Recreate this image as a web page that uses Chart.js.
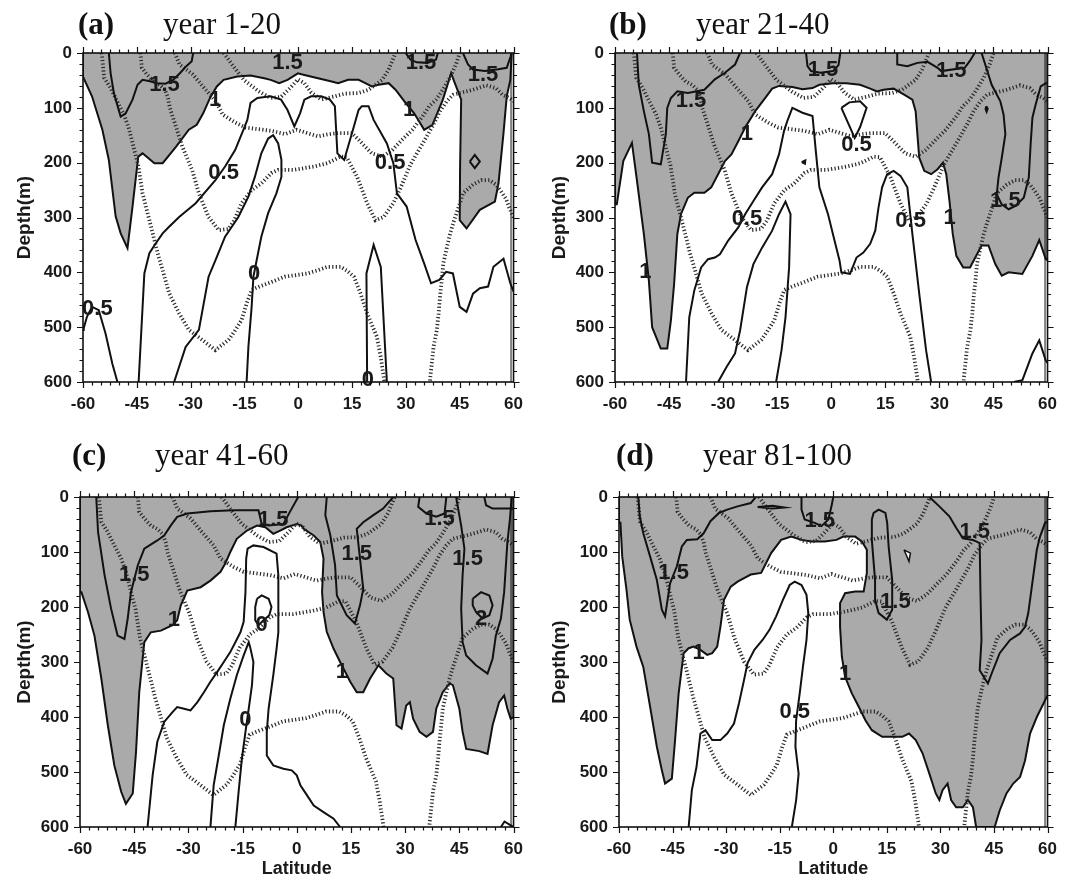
<!DOCTYPE html>
<html>
<head>
<meta charset="utf-8">
<script src="https://cdn.jsdelivr.net/npm/chart.js@4.4.1/dist/chart.umd.min.js"></script>
<style>
  html, body { margin: 0; padding: 0; background: #fff; }
  #wrap { position: relative; width: 1069px; height: 880px; background: #fff; overflow: hidden; }
  canvas { position: absolute; }
</style>
</head>
<body>
<div id="wrap">
  <canvas id="pa" width="535" height="440" style="left:0;top:0"></canvas>
  <canvas id="pb" width="534" height="440" style="left:535px;top:0"></canvas>
  <canvas id="pc" width="535" height="440" style="left:0;top:440px"></canvas>
  <canvas id="pd" width="534" height="440" style="left:535px;top:440px"></canvas>
</div>
<script>
// ---------- axis ticks ----------
const latTicks = [-60, -45, -30, -15, 0, 15, 30, 45, 60];
const depthTicks = [0, 100, 200, 300, 400, 500, 600];

// ---------- dotted background contours (same in every panel), [latitude, depth] ----------
const isoDeep = [[-54.8,0],[-54.1,45],[-52.3,64],[-50.5,88],[-48.6,112],[-47.3,136],[-46.3,161],[-45.4,185],[-44.6,205],[-43.4,256],[-41.5,305],[-40.1,341],[-39.2,365],[-37.8,396],[-36,438],[-33.2,475],[-30.5,505],[-26.8,523],[-23.1,542],[-19.4,523],[-17.5,505],[-15.8,487],[-14.3,455],[-13,432],[-10.5,425],[-8.4,420],[-3.8,408],[2.6,402],[5.5,396],[8.1,390],[11.8,390],[13.8,398],[15.5,408],[17.3,438],[19.2,475],[21.9,517],[23,555],[23.8,590],[24,600]];
const isoMid = [[-44,0],[-43.6,27],[-42.2,39],[-40.4,52],[-38.6,58],[-37.2,67],[-36.3,82],[-35.8,100],[-34.9,118],[-34,136],[-33.1,155],[-32.3,171],[-29.6,213],[-27.7,256],[-25,299],[-22.2,323],[-19.5,321],[-17.9,306],[-15.8,274],[-13,250],[-10.3,238],[-7.5,219],[-5.6,213],[-1.1,213],[4.4,207],[8.1,201],[11.8,189],[13.5,190],[16.4,226],[19.2,274],[21.5,305],[23.8,299],[26.5,274],[28.5,246],[31.3,203],[34.5,167],[37.7,130],[39.5,106],[41.4,88],[43.2,76],[45,73],[48.7,67],[52.4,59],[55.1,64],[56.9,76],[58.8,82],[60,88]];
const isoShallow = [[-34.4,0],[-33.1,21],[-29.4,39],[-26.2,64],[-23,88],[-21.1,112],[-19.7,118],[-17.5,127],[-14.7,136],[-11,139],[-7.4,142],[-3.7,148],[-0.5,140],[2.5,146],[5.5,152],[8.5,148],[11.1,146],[14.9,146],[16.8,158],[18.7,171],[20.5,183],[23.4,189],[26.2,177],[29,158],[31.8,140],[34.6,116],[36.5,97],[38.4,85],[40.3,67],[42.3,45],[44,20],[45,0]];
const isoTop = [[-20.8,0],[-18,25],[-15.2,49],[-11,70],[-7.7,82],[-4.8,80],[-2,62],[-0.1,48],[1.7,55],[3.6,72],[6.4,85],[10.2,79],[13,74],[16.8,73],[19.6,67],[23.4,49],[25.2,30],[27.1,0]];
const isoEast = [[60,300],[58.8,282],[57.9,266],[56.5,252],[55.1,240],[53.3,232],[51,232],[48.7,240],[45.9,256],[45,275],[43.2,310],[42.3,330],[41.4,355],[40.4,385],[40,415],[39.5,445],[39.1,476],[38.6,506],[37.7,536],[37.2,567],[36.8,591],[36.7,600]];

// ---------- panel (a) year 1-20 ----------
const aShade = [[-60,0],[-60,43],[-57.5,79],[-54.6,140],[-52.8,195],[-50.9,298],[-49.5,329],[-47.6,356],[-46.2,280],[-44.6,189],[-43.4,183],[-40.1,201],[-37.8,201],[-34.1,171],[-30.5,140],[-28.3,131],[-26.5,110],[-24.6,82],[-22.7,61],[-20.8,49],[-17,43],[-13.3,41],[-9.5,46],[-7.7,49],[-5.3,55],[-3,49],[-0.1,37],[1.7,40],[5.5,46],[9.3,52],[11.1,55],[13.9,49],[16.8,49],[18.7,55],[20.5,61],[22.4,58],[25.2,55],[27.1,67],[29.9,91],[32.3,110],[35.1,140],[37.4,131],[40.3,85],[42.6,37],[45.4,85],[45.1,207],[45,305],[46.9,320],[50.6,286],[54.8,271],[55.8,238],[57.2,146],[58.1,79],[59.1,49],[59.5,0]];
const aC15w = [[-52.8,0],[-52.3,37],[-51.4,73],[-49.5,116],[-48.1,110],[-46.2,85],[-44.8,58],[-43.4,49],[-41,52],[-39.6,55],[-37,56],[-34.9,49],[-33,37],[-31.2,24],[-29.7,15],[-29.3,0]];
const aC15n = [[29.9,0],[31.3,12],[33,17],[36,18],[38.4,12],[38.9,0]];
const aC15e = [[45.9,0],[47.3,21],[48.7,30],[52,33],[55.3,30],[58.1,27],[59.2,6],[59.4,0]];
const aC15d = [[47.8,198],[49.2,186],[50.6,198],[49.2,210],[47.8,198]];
const aC05 = [[-44.5,600],[-42.9,402],[-41.5,365],[-39.7,347],[-37.8,329],[-36,317],[-33.2,299],[-28.6,274],[-23.1,232],[-20.4,207],[-17.6,177],[-15.3,140],[-14.2,122],[-13.3,91],[-11.4,82],[-7.7,79],[-4.8,85],[-3,104],[-1.1,134],[0.5,110],[1.7,85],[3.6,79],[6.4,79],[8.8,85],[10.2,97],[10.9,183],[12.8,195],[15.5,134],[16.8,104],[17.7,97],[19.6,97],[21,122],[24.7,165],[26.5,201],[27.5,256],[30.2,280],[32.7,341],[35.1,384],[37,420],[39.3,414],[41.2,399],[43.1,402],[45,463],[46.9,472],[48.7,439],[50.6,429],[52.9,426],[54.4,390],[57.2,375],[59.1,420],[60,435]];
const aC05w = [[-60,505],[-59.8,502],[-58.9,481],[-57.5,463],[-55.6,469],[-53.7,512],[-51.8,567],[-50.4,600]];
const aC0 = [[-34.6,600],[-31.4,536],[-27.7,505],[-25,408],[-23.1,378],[-20.4,335],[-16.7,299],[-13.9,262],[-12.1,226],[-10.3,183],[-8.4,156],[-7,150],[-5.6,165],[-4.7,195],[-4.7,226],[-6.1,256],[-8.4,292],[-10.3,335],[-11.6,378],[-12.5,408],[-13,463],[-13.9,536],[-14.4,600]];
const aC0e = [[19.2,600],[19,402],[21,350],[23,390],[24.7,600]];
const aLabels = [['1.5',-37.3,58],['1',-23.2,85],['1.5',-3,18],['1.5',34.2,18],['1',30.9,104],['1.5',51.5,40],['0.5',-20.8,219],['0.5',25.6,201],['0',-12.3,403],['0.5',-56,466],['0',19.4,597]];

// ---------- panel (b) year 21-40 ----------
const bShade = [[-60,0],[-60,276],[-59.5,276],[-57.7,197],[-55.3,164],[-53.9,233],[-52,330],[-50.6,415],[-49.7,500],[-47.3,539],[-45.5,539],[-44.5,488],[-43.6,421],[-42.7,330],[-41.7,294],[-39.8,264],[-38,255],[-35.2,255],[-33.3,245],[-31.4,221],[-29.5,197],[-27.7,185],[-25.8,161],[-23.9,136],[-21.1,106],[-18.3,82],[-16.4,65],[-14.5,60],[-10.8,62],[-8,66],[-5.2,64],[-3.3,58],[0.5,55],[4.2,55],[8,58],[10.8,65],[12.7,70],[14.5,67],[17.3,65],[20.2,76],[22.5,85],[23.4,106],[23.9,149],[24.4,191],[25.8,215],[27.7,221],[29.5,212],[31,200],[31.9,221],[32.8,270],[33.7,330],[34.7,370],[36.6,391],[38.5,391],[41.7,351],[43.6,351],[45.5,385],[47.3,406],[49.2,400],[53,403],[55.8,370],[57.7,341],[59.5,376],[60,378],[60,0]];
const bC15w = [[-53.9,0],[-53.4,58],[-52,106],[-50.6,148],[-49.7,200],[-47.3,203],[-45.9,148],[-45.5,100],[-44.5,82],[-42.7,70],[-39.8,73],[-35.2,67],[-32.3,48],[-29.5,36],[-26.7,21],[-25.3,0]];
const bC15m = [[-7,0],[-6.6,24],[-5.6,33],[-3,36],[0.5,33],[2,22],[2.5,0]];
const bC15n = [[18.3,0],[18.3,21],[21.1,24],[23.9,18],[26.7,16],[29.5,27],[30.5,33],[37,27],[38.4,15],[39.8,0]];
const bC15e = [[41.7,0],[44.5,58],[46.9,88],[47.8,112],[48.3,148],[47.3,191],[46.4,227],[45.9,258],[47.3,276],[49.2,285],[51.1,279],[53.4,264],[54.8,227],[55.3,167],[55.8,118],[56.7,94],[58.1,61],[59.5,55],[60,55]];
const bC05 = [[-40.3,600],[-39.4,482],[-38,433],[-36.1,391],[-34.2,376],[-32.3,373],[-30.9,367],[-28.6,342],[-25.8,318],[-23.9,294],[-21.6,270],[-19.2,245],[-16.4,221],[-14.5,185],[-13.1,142],[-12.2,124],[-10.8,100],[-8,109],[-5.2,115],[-4.2,185],[-3.3,245],[-0.9,294],[0.9,342],[2.3,379],[2.8,400],[5.2,403],[7,373],[8.9,364],[10.8,348],[12.2,324],[13.1,282],[14.1,245],[15.5,221],[17.3,215],[19.2,224],[21.1,245],[22.5,330],[24.4,439],[26.3,542],[27.7,600]];
const bC05t = [[2.8,100],[5,90],[8,88],[9.8,100],[8,135],[6.5,155],[2.8,100]];
const bC0 = [[-31.4,600],[-29.1,573],[-26.7,548],[-25.3,506],[-23.4,427],[-21.6,385],[-19.2,355],[-16.4,324],[-14.5,294],[-12.7,271],[-11.3,294],[-11.7,391],[-12.7,482],[-13.8,542],[-15.3,600]];
const bC1se = [[50.6,600],[53,597],[55.8,548],[57.7,524],[59.5,561],[60,565]];
const bBlobA = [[-8.2,199],[-7.2,196],[-7.3,202],[-8.2,199]];
const bBlobB = [[43,97],[43.4,102],[43.1,107],[42.8,102],[43,97]];
const bLabels = [['1.5',-38.9,88],['1',-23.4,148],['1.5',-2.3,30],['1.5',33.3,33],['0.5',7,167],['0.5',-23.4,303],['0.5',22,306],['1',32.8,300],['1.5',48.3,270],['1',-51.6,400]];

// ---------- panel (c) year 41-60 ----------
const cShade = [[-60,0],[-60,173],[-59.6,173],[-57.8,209],[-56,252],[-54.1,330],[-52.3,415],[-50.5,488],[-48.6,536],[-47.3,558],[-45.4,539],[-44.5,464],[-43.6,355],[-42.2,264],[-40.4,246],[-37.6,243],[-34.4,233],[-33.1,224],[-32.1,197],[-30.3,170],[-26.6,164],[-23.9,152],[-21.1,136],[-19.8,121],[-18.4,100],[-16.6,76],[-13.8,61],[-11,52],[-8.7,55],[-6.5,67],[-4.6,61],[-2.8,55],[0,49],[1.3,52],[1.9,58],[4.7,70],[6.5,82],[7.4,112],[7,173],[7.4,209],[8.3,245],[10.2,276],[12,300],[14.8,336],[16.6,355],[18.4,355],[20.3,330],[22.6,306],[24.8,321],[26.7,330],[27.6,415],[29,421],[30.3,379],[31.3,373],[32.2,403],[34,427],[35.9,436],[37.7,427],[38.6,385],[40.4,355],[42.3,339],[43.2,342],[45,385],[45.9,427],[46.9,458],[50.5,462],[52.8,467],[54.2,415],[56,373],[57.4,361],[58.3,385],[59.2,403],[60,400],[60,0]];
const cC15w = [[-55.5,0],[-55,64],[-53.2,142],[-51.4,203],[-49.6,252],[-47.7,258],[-46.8,221],[-45.9,173],[-44,124],[-42.2,94],[-38.6,79],[-36.7,70],[-34.9,52],[-33.1,36],[-30.3,30],[-23.9,26],[-17.4,24],[-10.6,24],[-9.7,49],[-7.8,52],[-3.7,49],[-1.9,27],[0.4,0]];
const cC15m = [[8.3,0],[7.9,33],[9.3,70],[10.6,124],[11.1,179],[13.8,215],[16.1,230],[17.5,197],[18.4,167],[17.5,112],[16.6,58],[18.4,46],[21.2,33],[23.9,21],[26.7,0]];
const cC15n = [[34,0],[33.6,18],[35.9,30],[38.6,36],[40.9,30],[41.4,0]];
const cC15e = [[44.1,0],[45.5,52],[46.4,94],[45.9,142],[45.5,203],[45.9,264],[46.9,288],[49.6,306],[52.8,321],[54.2,294],[55.1,252],[56.5,221],[57.4,173],[58.3,82],[59,40],[59.5,0]];
const cC15ne = [[51.9,0],[52.4,15],[54.2,21],[58.8,21],[60,21]];
const cC2 = [[48.7,185],[51,173],[53.3,179],[54.2,197],[53.3,215],[51.4,221],[49.6,209],[48.7,197],[48.7,185]];
const cC05 = [[-41.3,600],[-39.9,506],[-38.6,445],[-36.7,409],[-34.4,391],[-33.1,382],[-31.2,385],[-29.4,388],[-27.5,373],[-25.7,355],[-23.9,336],[-22,318],[-20.2,300],[-18.4,282],[-17,264],[-15.6,246],[-14.7,227],[-14.2,173],[-14,112],[-13.6,94],[-12,88],[-9.2,91],[-5.6,103],[-5.1,142],[-5.1,246],[-5.6,276],[-6.5,324],[-7.8,385],[-8.3,427],[-8.3,470],[-6.5,488],[-3.7,494],[-1.4,497],[0,506],[1,524],[2.8,542],[4.7,561],[7.4,573],[10.2,585],[12,600]];
const cC0 = [[-23.9,600],[-23,524],[-21.6,470],[-20.2,415],[-18.4,367],[-16.6,324],[-14.7,288],[-13.3,264],[-12.9,273],[-12,300],[-12.4,342],[-13.3,385],[-14.2,427],[-15.2,476],[-16.1,536],[-17,600]];
const cC0o = [[-11,185],[-9.7,179],[-7.8,185],[-7,200],[-7.6,215],[-9.2,224],[-10.6,233],[-11.5,224],[-11.5,200],[-11,185]];
const cC1se = [[56.5,600],[57.5,590],[59,596],[60,600]];
const cLabels = [['1.5',-45,142],['1',-34,224],['1.5',-6.5,42],['0',-9.7,233],['0',-14.2,406],['1.5',16.6,103],['1',12.5,318],['1.5',39.5,40],['1.5',47.3,112],['2',51,221]];

// ---------- panel (d) year 81-100 ----------
const dShade = [[-60,0],[-60,47],[-59.6,47],[-59.1,108],[-57.9,169],[-57,223],[-55.1,272],[-53.2,309],[-51.3,381],[-49.4,454],[-48,497],[-47.1,521],[-45.2,512],[-44.3,442],[-43.3,357],[-41.9,284],[-40.5,275],[-39.1,272],[-37.2,278],[-35.3,287],[-33.9,284],[-32.5,272],[-31.6,236],[-30.6,187],[-28.7,163],[-26.8,154],[-23.1,141],[-20.2,138],[-18.8,120],[-17.4,102],[-14.6,78],[-11.8,72],[-8.9,78],[-6.1,81],[-2.4,81],[0.9,78],[2.8,72],[6.1,72],[8,81],[9.4,96],[9.4,138],[8.5,172],[6.1,172],[3.3,175],[1.9,193],[1.9,236],[2.4,290],[3.3,327],[5.2,357],[7.1,381],[9,406],[10.8,424],[13.7,436],[16.5,436],[19.3,436],[21.2,430],[23.1,442],[25,466],[26.9,503],[28.7,539],[29.7,551],[30.6,533],[32,521],[33,551],[34.4,564],[36.3,564],[37.7,551],[39.1,564],[40,600],[45.2,600],[46.6,570],[48.5,539],[50.4,521],[52.3,509],[53.7,479],[55.1,430],[57,400],[58.9,375],[59.8,363],[60,360],[60,0]];
const dHole = [[19.8,96],[21.6,102],[21.2,117],[19.8,96]];
const dC15w = [[-54.6,0],[-54.2,35],[-53.2,66],[-51.3,108],[-49.4,151],[-48,205],[-47.1,217],[-45.7,157],[-43.8,126],[-42.4,90],[-41,78],[-38.1,77],[-36.3,66],[-34.4,44],[-32,29],[-29.7,23],[-26.8,17],[-23.1,11],[-21.7,0]];
const dC15m = [[-8.9,0],[-8.9,23],[-8,41],[-5.2,47],[-3.3,53],[-1.4,41],[-0.5,17],[0,0]];
const dC15s = [[-21.2,18],[-17,16],[-13.7,19],[-17,21],[-21.2,18]];
const dC15c = [[10.8,41],[10.8,78],[11.7,151],[11.7,187],[12.7,211],[15,223],[16.5,205],[16.5,151],[15.5,90],[15.1,47],[14.6,29],[12.7,23],[11.3,29],[10.8,41]];
const dC15e = [[26.9,0],[29.7,17],[32.5,35],[34.4,56],[36.3,75],[39.1,78],[41,84],[41.2,169],[41.5,260],[41,315],[43.3,339],[44.7,315],[46.6,284],[49.5,260],[52.3,248],[53.7,236],[54.6,211],[55.6,163],[57,96],[57.9,72],[59.3,47],[60,45]];
const dC05 = [[-40.5,600],[-39.6,533],[-38.3,491],[-37.2,430],[-35.8,424],[-33.9,442],[-31.6,442],[-29.7,430],[-27.8,412],[-26.4,375],[-25,333],[-24,302],[-22.1,278],[-19.8,260],[-17.9,242],[-16,217],[-14.1,187],[-12.2,160],[-10.8,154],[-8.9,160],[-7.5,178],[-7,211],[-7.5,260],[-8.5,309],[-9.4,357],[-10.4,406],[-10.6,454],[-9.7,503],[-10.4,551],[-11.6,600]];
const dLabels = [['1.5',-44.7,138],['1',-37.7,284],['1.5',-3.8,44],['1.5',17.4,190],['1',3.3,321],['0.5',-10.8,390],['1.5',39.6,63]];

// ---------- styles ----------
const INK = '#111111';
const GRAY = '#aaaaaa';
const SANS = '"Liberation Sans", Arial, Helvetica, sans-serif';
const SERIF = '"Liberation Serif", "Times New Roman", Times, serif';
const toXY = arr => arr.map(p => ({x: p[0], y: p[1]}));

const framePlugin = {
  id: 'gmtframe',
  afterDatasetsDraw(chart) {
    const o = chart.options.plugins.gmtframe;
    const {ctx, chartArea: a, scales: {x, y}} = chart;
    ctx.save();
    // contour labels
    ctx.fillStyle = '#1a1a1a';
    ctx.font = 'bold 22px ' + SANS;
    ctx.textAlign = 'center';
    ctx.textBaseline = 'middle';
    o.labels.forEach(l => ctx.fillText(l[0], x.getPixelForValue(l[1]), y.getPixelForValue(l[2])));
    // frame
    ctx.strokeStyle = INK;
    ctx.lineWidth = 1.6;
    ctx.strokeRect(a.left, a.top, a.right - a.left, a.bottom - a.top);
    ctx.lineWidth = 1;
    ctx.beginPath();
    ctx.moveTo(a.right - 2.5, a.top); ctx.lineTo(a.right - 2.5, a.bottom);
    ctx.stroke();
    // tick marks on all four sides (major every 15 deg / 100 m, minor every 2.5 deg / 20 m)
    ctx.lineWidth = 1.2;
    ctx.beginPath();
    for (let i = 0; i <= 48; i++) {
      const v = -60 + i * 2.5;
      const px = Math.round(x.getPixelForValue(v)) + 0.5;
      const len = (i % 6 === 0) ? 6 : 3.5;
      ctx.moveTo(px, a.top); ctx.lineTo(px, a.top - len);
      ctx.moveTo(px, a.bottom); ctx.lineTo(px, a.bottom + len);
    }
    for (let i = 0; i <= 30; i++) {
      const py = Math.round(y.getPixelForValue(i * 20)) + 0.5;
      const len = (i % 5 === 0) ? 6 : 3.5;
      ctx.moveTo(a.left, py); ctx.lineTo(a.left - len, py);
      ctx.moveTo(a.right, py); ctx.lineTo(a.right + len, py);
    }
    ctx.stroke();
    // panel title
    ctx.fillStyle = '#111';
    ctx.textAlign = 'left';
    ctx.textBaseline = 'alphabetic';
    ctx.font = 'bold 31px ' + SERIF;
    ctx.fillText(o.tag, o.tagX, o.titleY);
    ctx.font = '31px ' + SERIF;
    ctx.fillText(o.title, o.titleX, o.titleY);
    ctx.restore();
  }
};

function makePanel(id, spec) {
  const datasets = [];
  spec.shades.forEach(s => datasets.push({
    data: toXY(s), showLine: true, fill: 'shape', backgroundColor: GRAY,
    borderColor: INK, borderWidth: 2, pointRadius: 0, tension: 0, order: 5
  }));
  (spec.holes || []).forEach(s => datasets.push({
    data: toXY(s), showLine: true, fill: 'shape', backgroundColor: '#ffffff',
    borderColor: INK, borderWidth: 1.5, pointRadius: 0, tension: 0, order: 4
  }));
  [isoDeep, isoMid, isoShallow, isoTop, isoEast].forEach(s => datasets.push({
    data: toXY(s), showLine: true, fill: false, borderColor: '#2a2a2a',
    borderWidth: 3.8, borderDash: [1.2, 2.3], borderCapStyle: 'butt',
    pointRadius: 0, tension: 0, order: 3
  }));
  spec.lines.forEach(s => datasets.push({
    data: toXY(s), showLine: true, fill: false, borderColor: INK,
    borderWidth: 2, pointRadius: 0, tension: 0, order: 2
  }));
  const tickFont = {family: SANS, size: 17, weight: 'bold'};
  new Chart(document.getElementById(id), {
    type: 'scatter',
    data: {datasets},
    options: {
      responsive: false, animation: false, devicePixelRatio: 1,
      events: [],
      layout: {padding: {left: 0, right: spec.padRight, top: spec.padTop, bottom: 0}},
      plugins: {
        legend: {display: false}, tooltip: {enabled: false},
        gmtframe: {labels: spec.labels, tag: spec.tag, title: spec.title,
                   tagX: spec.tagX, titleX: spec.titleX, titleY: spec.titleY}
      },
      scales: {
        x: {
          type: 'linear', position: 'bottom', min: -60, max: 60,
          grid: {display: false, drawTicks: false}, border: {display: false},
          afterBuildTicks: s => { s.ticks = latTicks.map(v => ({value: v})); },
          afterFit: s => { s.height = spec.xHeight; },
          ticks: {autoSkip: false, maxRotation: 0, padding: 12, color: '#1a1a1a', font: tickFont},
          title: {display: spec.xTitle, text: 'Latitude', color: '#1a1a1a',
                  font: {family: SANS, size: 18, weight: 'bold'}, padding: {top: 0, bottom: 0}}
        },
        y: {
          type: 'linear', position: 'left', min: 0, max: 600, reverse: true,
          grid: {display: false, drawTicks: false}, border: {display: false},
          afterBuildTicks: s => { s.ticks = depthTicks.map(v => ({value: v})); },
          afterFit: s => { s.width = spec.yWidth; },
          ticks: {autoSkip: false, padding: 11, color: '#1a1a1a', font: tickFont},
          title: {display: true, text: 'Depth(m)', color: '#1a1a1a',
                  font: {family: SANS, size: 19, weight: 'bold'}, padding: {top: 13, bottom: 0}}
        }
      }
    },
    plugins: [framePlugin]
  });
}

makePanel('pa', {
  shades: [aShade], lines: [aC15w, aC15n, aC15e, aC15d, aC05, aC05w, aC0, aC0e], labels: aLabels,
  tag: '(a)', title: 'year 1-20', tagX: 78, titleX: 163, titleY: 34,
  padTop: 53, padRight: 17, yWidth: 83, xHeight: 58, xTitle: false
});
makePanel('pb', {
  shades: [bShade], lines: [bC15w, bC15m, bC15n, bC15e, bC05, bC05t, bC0, bC1se, bBlobA, bBlobB], labels: bLabels,
  tag: '(b)', title: 'year 21-40', tagX: 74, titleX: 161, titleY: 34,
  padTop: 53, padRight: 17, yWidth: 80, xHeight: 58, xTitle: false
});
makePanel('pc', {
  shades: [cShade], lines: [cC15w, cC15m, cC15n, cC15e, cC15ne, cC2, cC05, cC0, cC0o, cC1se], labels: cLabels,
  tag: '(c)', title: 'year 41-60', tagX: 72, titleX: 155, titleY: 25,
  padTop: 57, padRight: 19, yWidth: 80, xHeight: 53, xTitle: true
});
makePanel('pd', {
  shades: [dShade], holes: [dHole], lines: [dC15w, dC15m, dC15s, dC15c, dC15e, dC05], labels: dLabels,
  tag: '(d)', title: 'year 81-100', tagX: 81, titleX: 168, titleY: 25,
  padTop: 57, padRight: 14, yWidth: 84, xHeight: 53, xTitle: true
});
</script>
</body>
</html>
